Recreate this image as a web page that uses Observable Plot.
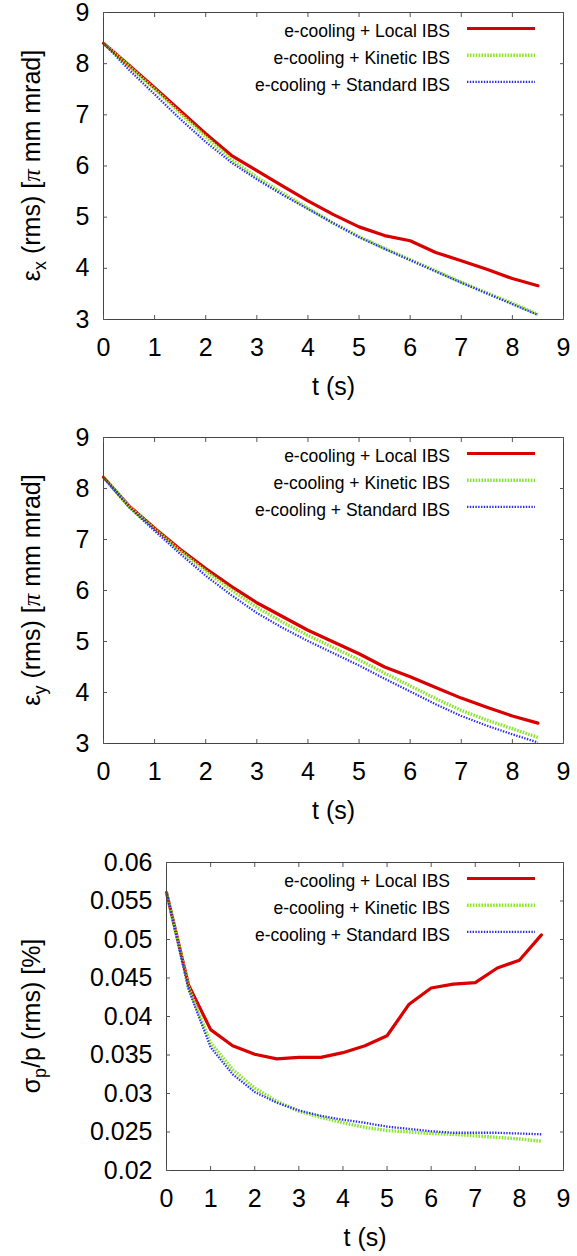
<!DOCTYPE html>
<html><head><meta charset="utf-8">
<script src="https://cdn.jsdelivr.net/npm/d3@7"></script>
<script src="https://cdn.jsdelivr.net/npm/@observablehq/plot@0.6"></script>
<style>
body{margin:0;background:#fff;}
#chart{width:577px;}
#chart svg{display:block;}
</style></head><body><div id="chart"></div>
<script>
// ---- data ----
const t = [0,0.5,1,1.5,2,2.5,3,3.5,4,4.5,5,5.5,6,6.5,7,7.5,8,8.5];
const seriesNames = ["e-cooling + Local IBS","e-cooling + Kinetic IBS","e-cooling + Standard IBS"];

const exLocal    = [8.40,7.97,7.53,7.08,6.63,6.21,5.91,5.61,5.32,5.05,4.81,4.64,4.54,4.31,4.15,3.98,3.80,3.66];
const exKinetic  = [8.40,7.95,7.50,7.03,6.57,6.13,5.78,5.47,5.18,4.88,4.62,4.39,4.17,3.95,3.73,3.52,3.32,3.10];
const exStandard = [8.40,7.88,7.40,6.92,6.47,6.07,5.74,5.44,5.16,4.88,4.61,4.38,4.16,3.94,3.72,3.51,3.30,3.09];

const eyLocal    = [8.22,7.66,7.22,6.81,6.43,6.08,5.76,5.49,5.22,4.99,4.76,4.50,4.31,4.10,3.89,3.71,3.54,3.40];
const eyKinetic  = [8.22,7.65,7.20,6.78,6.38,6.01,5.67,5.38,5.12,4.88,4.64,4.38,4.13,3.88,3.65,3.46,3.29,3.12];
const eyStandard = [8.22,7.63,7.17,6.72,6.29,5.91,5.56,5.27,5.01,4.77,4.53,4.27,4.02,3.77,3.54,3.35,3.18,3.02];

const spLocal    = [0.0561,0.0441,0.0383,0.0362,0.0351,0.0345,0.0347,0.0347,0.0353,0.0362,0.0375,0.0416,0.0437,0.0442,0.0444,0.0463,0.0473,0.0506];
const spKinetic  = [0.0561,0.0438,0.0366,0.0331,0.0307,0.0290,0.0277,0.0269,0.0262,0.0256,0.0252,0.0250,0.0248,0.0247,0.0245,0.0243,0.0241,0.0238];
const spStandard = [0.0561,0.0435,0.0360,0.0325,0.0302,0.0288,0.0278,0.0271,0.0266,0.0262,0.0257,0.0254,0.0251,0.0249,0.0249,0.0249,0.0248,0.0247];

const xTicks  = [0,1,2,3,4,5,6,7,8,9];
const yTicksE = [3,4,5,6,7,8,9];
const yTicksS = [0.02,0.025,0.03,0.035,0.04,0.045,0.05,0.055,0.06];
const xLabel = "t (s)";

// ---- styles ----
const styles = [
  {stroke:"#d80000", strokeWidth:3.2, dash:null},
  {stroke:"#8ae62c", strokeWidth:3.4, dash:"1.6,1.3"},
  {stroke:"#2b2bf2", strokeWidth:2.3, dash:"1.4,1.4"}
];
const FONT = "'Liberation Sans', Arial, Helvetica, sans-serif";

function panel(cfg) {
  const {series, yDomain, yTicks, height, mt, mb, ml, mr, ylab} = cfg;
  const W = 577;
  const marks = [];
  series.forEach((vals, i) => {
    const s = styles[i];
    marks.push(Plot.lineY(vals, {x: t, stroke: s.stroke, strokeWidth: s.strokeWidth,
      strokeDasharray: s.dash, strokeLinejoin: "round", strokeLinecap: s.dash ? "butt" : "round"}));
  });
  marks.push(Plot.frame({stroke: "#444", strokeWidth: 1}));
  marks.push(Plot.axisX({anchor: "bottom", ticks: xTicks, tickSize: -4, tickPadding: 23, label: null, stroke: "#555", fill: "#000", fontSize: 25}));
  marks.push(Plot.axisX({anchor: "top", ticks: xTicks, tickSize: -4, tickFormat: () => "", label: null, stroke: "#555"}));
  marks.push(Plot.axisY({anchor: "left", ticks: yTicks, tickSize: -4, tickPadding: 18, tickFormat: d => String(+d.toFixed(3)), label: null, stroke: "#555", fill: "#000", fontSize: 25}));
  marks.push(Plot.axisY({anchor: "right", ticks: yTicks, tickSize: -4, tickFormat: () => "", label: null, stroke: "#555"}));
  marks.push(Plot.text([xLabel], {text: d => d, frameAnchor: "bottom", dy: 67, lineAnchor: "middle", fontSize: 25, fill: "#000"}));

  const svgEl = Plot.plot({
    width: W, height,
    marginTop: mt, marginBottom: mb, marginLeft: ml, marginRight: mr,
    x: {domain: [0, 9]},
    y: {domain: yDomain},
    style: {fontFamily: FONT, fontSize: "25px", background: "#fff", color: "#000", overflow: "visible"},
    marks
  });

  const svg = d3.select(svgEl);
  const fTop = mt, fRight = W - mr, fBottom = height - mb;
  // y-axis label (rotated, with subscript)
  const lab = svg.append("text")
    .attr("transform", `translate(31,${(fTop + fBottom) / 2}) rotate(-90)`)
    .attr("text-anchor", "middle").attr("y", 9)
    .attr("font-family", FONT).attr("font-size", 25).attr("fill", "#000");
  ylab.forEach(part => {
    const ts = lab.append("tspan").text(part.text);
    if (part.sub) ts.attr("font-size", 18).attr("dy", 6);
    if (part.after) ts.attr("dy", -6);
    if (part.serif) ts.attr("font-family", "'Liberation Serif', 'DejaVu Serif', serif").attr("font-style", "italic");
  });
  // legend
  const lg = svg.append("g").attr("font-family", FONT).attr("font-size", 17.5).attr("fill", "#000");
  seriesNames.forEach((name, i) => {
    const y = fTop + 16.5 + i * 26.7;
    lg.append("text").attr("x", fRight - 113).attr("y", y + 8.8).attr("text-anchor", "end").text(name);
    const s = styles[i];
    const ln = lg.append("line").attr("x1", fRight - 96).attr("x2", fRight - 28).attr("y1", y).attr("y2", y)
      .attr("stroke", s.stroke).attr("stroke-width", s.strokeWidth);
    if (s.dash) ln.attr("stroke-dasharray", s.dash);
  });
  return svgEl;
}

const root = document.getElementById("chart");
root.appendChild(panel({
  series: [exLocal, exKinetic, exStandard], yDomain: [3, 9], yTicks: yTicksE,
  height: 420, mt: 12, mb: 101, ml: 103, mr: 14,
  ylab: [{text: "ε"}, {text: "x", sub: true}, {text: " (rms) [", after: true}, {text: "π", serif: true}, {text: " mm mrad]"}]
}));
root.appendChild(panel({
  series: [eyLocal, eyKinetic, eyStandard], yDomain: [3, 9], yTicks: yTicksE,
  height: 420, mt: 17, mb: 97, ml: 103, mr: 14,
  ylab: [{text: "ε"}, {text: "y", sub: true}, {text: " (rms) [", after: true}, {text: "π", serif: true}, {text: " mm mrad]"}]
}));
root.appendChild(panel({
  series: [spLocal, spKinetic, spStandard], yDomain: [0.02, 0.06], yTicks: yTicksS,
  height: 416, mt: 22, mb: 86, ml: 166, mr: 14,
  ylab: [{text: "σ"}, {text: "p", sub: true}, {text: "/p (rms) [%]", after: true}]
}));
</script>
</body></html>
